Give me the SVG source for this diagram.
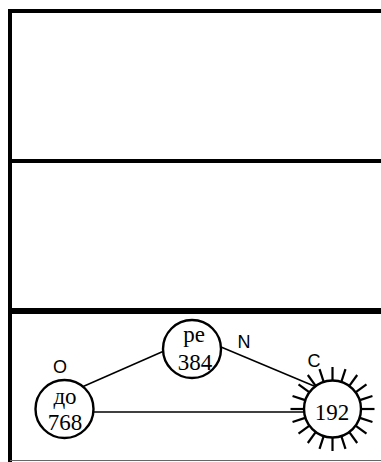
<svg xmlns="http://www.w3.org/2000/svg" xmlns:xlink="http://www.w3.org/1999/xlink" width="381" height="462" viewBox="0 0 381 462">
<style>
.frame{stroke:#000;fill:none}
.node{fill:#fff;stroke:#000;stroke-width:2.4}
.edge{stroke:#000;stroke-width:1.5;fill:none}
.ray{stroke:#000;stroke-width:2.2}
.num{font-family:"Liberation Serif",serif;font-size:23px;text-anchor:middle;fill:#000}
.lbl{font-family:"Liberation Sans",sans-serif;font-size:18px;text-anchor:middle;fill:#000}
</style>
<defs>
<line id="r" class="ray" x1="0" y1="-28" x2="0" y2="-42"/>
</defs>
<rect width="381" height="462" fill="#fff"/>
<g id="frame">
<line class="frame" x1="10" y1="9" x2="10" y2="462" stroke-width="4"/>
<line class="frame" x1="8" y1="11" x2="381" y2="11" stroke-width="4"/>
<line class="frame" x1="10" y1="161" x2="381" y2="161" stroke-width="4"/>
<line class="frame" x1="10" y1="311" x2="381" y2="311" stroke-width="6"/>
<line x1="10" y1="460.5" x2="381" y2="460.5" stroke="#666" stroke-width="1"/>
</g>
<g id="connectors">
<line class="edge" x1="82" y1="387" x2="164" y2="351"/>
<line class="edge" x1="221" y1="347" x2="314" y2="386"/>
<line class="edge" x1="93" y1="412" x2="304" y2="412"/>
</g>
<g id="node-re">
<circle class="node" cx="192" cy="349" r="29"/>
<text class="num" x="194" y="342">ре</text>
<text class="num" x="195" y="370">384</text>
</g>
<g id="node-do">
<circle class="node" cx="64.5" cy="409" r="29"/>
<text class="num" x="65" y="404">до</text>
<text class="num" x="65" y="430">768</text>
</g>
<g id="node-192">
<g transform="translate(332.5,409)">
<use xlink:href="#r" transform="rotate(0)"/>
<use xlink:href="#r" transform="rotate(18)"/>
<use xlink:href="#r" transform="rotate(36)"/>
<use xlink:href="#r" transform="rotate(54)"/>
<use xlink:href="#r" transform="rotate(72)"/>
<use xlink:href="#r" transform="rotate(90)"/>
<use xlink:href="#r" transform="rotate(108)"/>
<use xlink:href="#r" transform="rotate(126)"/>
<use xlink:href="#r" transform="rotate(144)"/>
<use xlink:href="#r" transform="rotate(162)"/>
<use xlink:href="#r" transform="rotate(180)"/>
<use xlink:href="#r" transform="rotate(198)"/>
<use xlink:href="#r" transform="rotate(216)"/>
<use xlink:href="#r" transform="rotate(234)"/>
<use xlink:href="#r" transform="rotate(252)"/>
<use xlink:href="#r" transform="rotate(270)"/>
<use xlink:href="#r" transform="rotate(288)"/>
<use xlink:href="#r" transform="rotate(306)"/>
<use xlink:href="#r" transform="rotate(324)"/>
<use xlink:href="#r" transform="rotate(342)"/>
</g>
<circle class="node" cx="332.5" cy="409" r="28.5"/>
<text class="num" x="332" y="420">192</text>
</g>
<g id="labels">
<text class="lbl" x="60" y="373">O</text>
<text class="lbl" x="244" y="348">N</text>
<text class="lbl" x="314" y="367">C</text>
</g>
</svg>
